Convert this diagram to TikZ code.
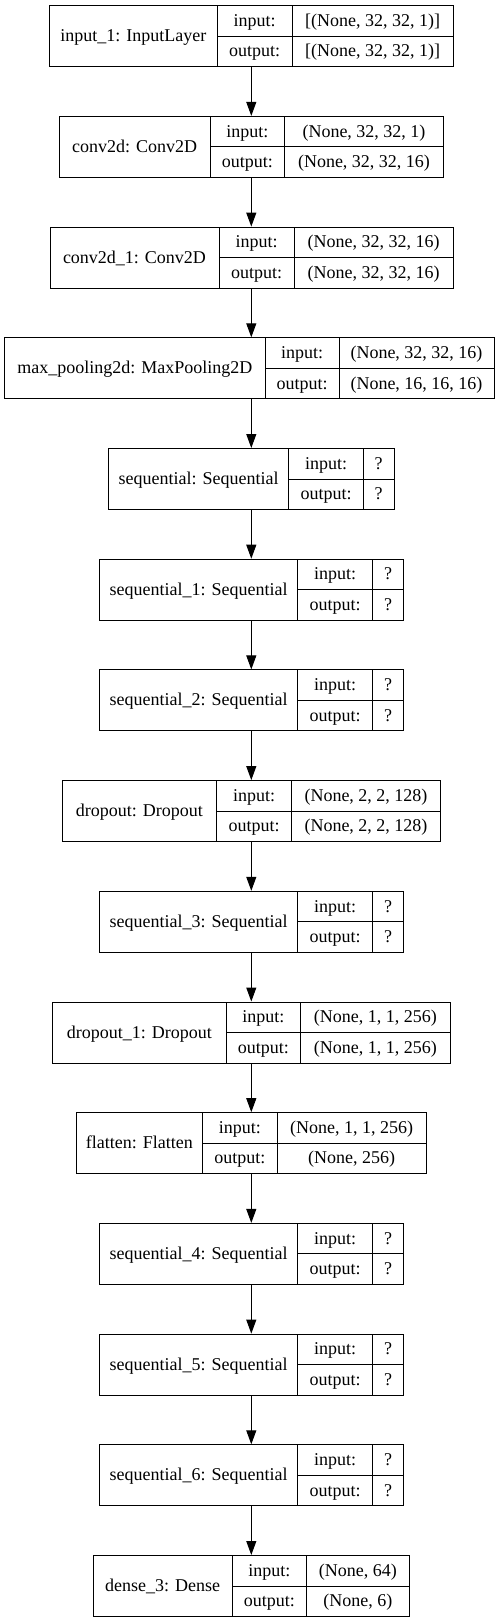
\documentclass[tikz,border=0pt]{standalone}
\usepackage{fontspec}
\setmainfont{Liberation Serif}
\usetikzlibrary{arrows.meta}

% one layer: name, top, left, first split, second split, right, label, input, output
\newcommand{\layer}[9]{%
	\node[outerbox, minimum width=#6-#3] (#1) at ({(#3+#6)/2},{#2+30.5}) {};
	\node[cellbox, minimum width=#4-#3, minimum height=61] (#1-name) at ({(#3+#4)/2},{#2+30.5}) {#7};
	\node[cellbox, minimum width=#5-#4] (#1-in) at ({(#4+#5)/2},{#2+15.25}) {input:};
	\node[cellbox, minimum width=#6-#5] (#1-inval) at ({(#5+#6)/2},{#2+15.25}) {#8};
	\node[cellbox, minimum width=#5-#4] (#1-out) at ({(#4+#5)/2},{#2+45.75}) {output:};
	\node[cellbox, minimum width=#6-#5] (#1-outval) at ({(#5+#6)/2},{#2+45.75}) {#9};
}

\begin{document}
\begin{tikzpicture}[x=1pt, y=-1pt, line width=1pt,
	outerbox/.style={draw, inner sep=0pt, minimum height=61},
	cellbox/.style={draw, inner sep=0pt, minimum height=30.5,
		text height=13pt, text depth=2pt, font=\fontsize{18}{20}\selectfont},
	flow/.style={-{Triangle[length=14pt, width=10pt]}}]

	\useasboundingbox (0,0) rectangle (503,1623);
	\coordinate (axis) at (251.3,0);

	%layers
	\layer{input1}{5.7}{49.3}{217.3}{292}{453.3}{input\_1: InputLayer}{[(None, 32, 32, 1)]}{[(None, 32, 32, 1)]}
	\layer{conv}{116.4}{59.3}{210}{284.7}{443.3}{conv2d: Conv2D}{(None, 32, 32, 1)}{(None, 32, 32, 16)}
	\layer{convb}{227.1}{50}{219}{294}{453.3}{conv2d\_1: Conv2D}{(None, 32, 32, 16)}{(None, 32, 32, 16)}
	\layer{pool}{337.8}{4.7}{265}{339}{494}{max\_pooling2d: MaxPooling2D}{(None, 32, 32, 16)}{(None, 16, 16, 16)}
	\layer{seq}{448.5}{108.7}{288.7}{363.3}{394}{sequential: Sequential}{?}{?}
	\layer{seqa}{559.2}{99.3}{297.7}{372.7}{403.3}{sequential\_1: Sequential}{?}{?}
	\layer{seqb}{669.9}{99.3}{297.7}{372.7}{403.3}{sequential\_2: Sequential}{?}{?}
	\layer{drop}{780.6}{62}{216.7}{291.3}{440.7}{dropout: Dropout}{(None, 2, 2, 128)}{(None, 2, 2, 128)}
	\layer{seqc}{891.3}{99.3}{297.7}{372.7}{403.3}{sequential\_3: Sequential}{?}{?}
	\layer{dropa}{1002}{52.7}{226}{300.7}{450}{dropout\_1: Dropout}{(None, 1, 1, 256)}{(None, 1, 1, 256)}
	\layer{flat}{1112.7}{76}{202.7}{277}{426.3}{flatten: Flatten}{(None, 1, 1, 256)}{(None, 256)}
	\layer{seqd}{1223.4}{99.3}{297.7}{372.7}{403.3}{sequential\_4: Sequential}{?}{?}
	\layer{seqe}{1334.1}{99.3}{297.7}{372.7}{403.3}{sequential\_5: Sequential}{?}{?}
	\layer{seqf}{1444.8}{99.3}{297.7}{372.7}{403.3}{sequential\_6: Sequential}{?}{?}
	\layer{dense}{1555.5}{93.3}{232}{306.7}{409}{dense\_3: Dense}{(None, 64)}{(None, 6)}

	%connections
	\draw[flow] (input1.south -| axis) -- (conv.north -| axis);
	\draw[flow] (conv.south -| axis) -- (convb.north -| axis);
	\draw[flow] (convb.south -| axis) -- (pool.north -| axis);
	\draw[flow] (pool.south -| axis) -- (seq.north -| axis);
	\draw[flow] (seq.south -| axis) -- (seqa.north -| axis);
	\draw[flow] (seqa.south -| axis) -- (seqb.north -| axis);
	\draw[flow] (seqb.south -| axis) -- (drop.north -| axis);
	\draw[flow] (drop.south -| axis) -- (seqc.north -| axis);
	\draw[flow] (seqc.south -| axis) -- (dropa.north -| axis);
	\draw[flow] (dropa.south -| axis) -- (flat.north -| axis);
	\draw[flow] (flat.south -| axis) -- (seqd.north -| axis);
	\draw[flow] (seqd.south -| axis) -- (seqe.north -| axis);
	\draw[flow] (seqe.south -| axis) -- (seqf.north -| axis);
	\draw[flow] (seqf.south -| axis) -- (dense.north -| axis);

\end{tikzpicture}
\end{document}
